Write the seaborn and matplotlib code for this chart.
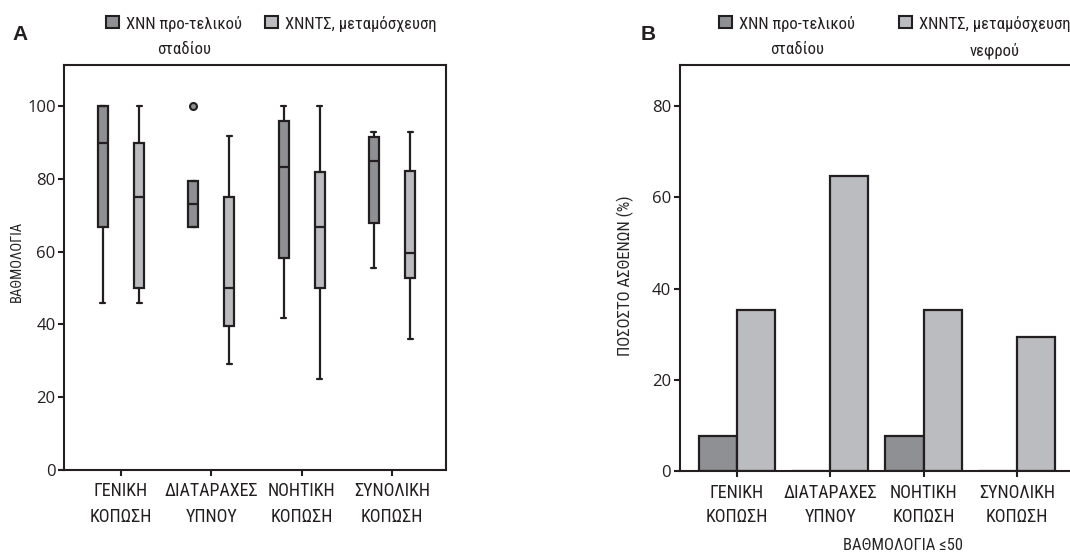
import matplotlib
matplotlib.use("Agg")
import matplotlib.pyplot as plt
from matplotlib import font_manager
from matplotlib.font_manager import FontProperties
import seaborn as sns
import pandas as pd

# ---------------- data ----------------
categories = ["ΓΕΝΙΚΗ\nΚΟΠΩΣΗ", "ΔΙΑΤΑΡΑΧΕΣ\nΥΠΝΟΥ", "ΝΟΗΤΙΚΗ\nΚΟΠΩΣΗ", "ΣΥΝΟΛΙΚΗ\nΚΟΠΩΣΗ"]
groups_a = ["ΧΝΝ προ-τελικού\nσταδίου", "ΧΝΝΤΣ, μεταμόσχευση"]
groups_b = ["ΧΝΝ προ-τελικού\nσταδίου", "ΧΝΝΤΣ, μεταμόσχευση\nνεφρού"]

# panel A: score samples per category (min, Q1, median, Q3, max / outlier)
esrd_scores = [
    [46.0, 66.7, 90.0, 100.0, 100.0],
    [66.7, 66.7, 73.0, 79.5, 100.0],
    [41.7, 58.3, 83.3, 95.8, 100.0],
    [55.5, 68.0, 85.0, 91.5, 93.0],
]
rrt_scores = [
    [46.0, 50.0, 75.0, 90.0, 100.0],
    [29.2, 39.6, 50.0, 75.0, 91.7],
    [25.0, 50.0, 66.7, 82.0, 100.0],
    [36.0, 52.7, 59.5, 82.3, 93.0],
]

# panel B: percent of patients with score <= 50
esrd_pct = [7.7, 0.0, 7.7, 0.0]
rrt_pct = [35.3, 64.7, 35.3, 29.4]

y_ticks_a = [0, 20, 40, 60, 80, 100]
y_ticks_b = [0, 20, 40, 60, 80]

# ---------------- style ----------------
DARK = "#8f9094"
LIGHT = "#bbbcc0"
EDGE = "#231f20"

sns.set_theme(style="ticks")

# find a condensed / narrow face with Greek glyphs
def find_narrow():
    prefs = ["Liberation Sans Narrow", "Roboto Condensed", "Noto Sans", "Open Sans", "DejaVu Sans"]
    entries = font_manager.fontManager.ttflist
    for p in prefs:
        for f in entries:
            fn = f.fname.lower()
            is_narrow = ("narrow" in fn or "condensed" in fn or
                         f.stretch in ("condensed", "semi-condensed"))
            bad = any(k in fn for k in ("bold", "italic", "oblique", "light", "thin",
                                         "medium", "black", "semibold", "extracondensed",
                                         "ultracondensed", "semicondensed"))
            if f.name.startswith(p) and is_narrow and not bad:
                return f.fname
    return None

narrow_path = find_narrow()
avail = {f.name for f in font_manager.fontManager.ttflist}
NUM = "Open Sans" if "Open Sans" in avail else "DejaVu Sans"

def nfp(size):
    if narrow_path:
        return FontProperties(fname=narrow_path, size=size)
    return FontProperties(family="DejaVu Sans", stretch="condensed", size=size)

plt.rcParams["axes.edgecolor"] = EDGE
plt.rcParams["axes.linewidth"] = 1.5
plt.rcParams["xtick.color"] = EDGE
plt.rcParams["ytick.color"] = EDGE
plt.rcParams["text.color"] = EDGE

rows = []
for cat, vals in zip(categories, esrd_scores):
    for v in vals:
        rows.append({"cat": cat, "grp": groups_a[0], "val": v})
for cat, vals in zip(categories, rrt_scores):
    for v in vals:
        rows.append({"cat": cat, "grp": groups_a[1], "val": v})
df_a = pd.DataFrame(rows)

df_b = pd.DataFrame({
    "cat": categories * 2,
    "grp": [groups_b[0]] * 4 + [groups_b[1]] * 4,
    "pct": esrd_pct + rrt_pct,
})

W, H = 1070, 553
fig = plt.figure(figsize=(W / 100, H / 100), dpi=100)

def fx(px):
    return px / W

def fy(py):
    return 1 - py / H

axA = fig.add_axes([fx(64), fy(470), fx(446 - 64), (470 - 65) / H])
axB = fig.add_axes([fx(679.5), fy(471), fx(1127 - 679.5), (471 - 65) / H])

# ---------------- panel A ----------------
sns.boxplot(
    data=df_a, x="cat", y="val", hue="grp", order=categories, hue_order=groups_a,
    palette=[DARK, LIGHT], width=0.8, gap=0.72, linecolor=EDGE, linewidth=1.6,
    whis=1.5, saturation=1,
    flierprops=dict(marker="o", markersize=5, markerfacecolor=DARK,
                    markeredgecolor=EDGE, markeredgewidth=1.5),
    ax=axA,
)
axA.set_xlim(-0.631, 3.598)
axA.set_ylim(0, 111.3)
axA.set_yticks(y_ticks_a)
axA.set_xlabel("")
axA.set_ylabel("ΒΑΘΜΟΛΟΓΙΑ", fontproperties=nfp(10.5), va="center")
axA.yaxis.set_label_coords((17 - 64) / 382, (470 - 261) / 405)
for s in axA.spines.values():
    s.set_visible(True)

# ---------------- panel B ----------------
sns.barplot(
    data=df_b, x="cat", y="pct", hue="grp", order=categories, hue_order=groups_b,
    palette=[DARK, LIGHT], width=0.82, gap=0, edgecolor=EDGE, linewidth=1.6,
    saturation=1, errorbar=None, ax=axB,
)
axB.set_xlim(-0.615, 4.18)
axB.set_ylim(0, 89)
axB.set_yticks(y_ticks_b)
axB.set_xlabel("ΒΑΘΜΟΛΟΓΙΑ ≤50", fontproperties=nfp(12), va="top")
axB.xaxis.set_label_coords((903 - 679.5) / 447.5, (471 - 538) / 406)
axB.set_ylabel("ΠΟΣΟΣΤΟ ΑΣΘΕΝΩΝ (%)", fontproperties=nfp(12), va="center")
axB.yaxis.set_label_coords((625 - 679.5) / 447.5, (471 - 276) / 406)
axB.spines["top"].set_visible(True)
axB.spines["right"].set_visible(True)

for ax in (axA, axB):
    ax.tick_params(axis="both", direction="out", length=4, width=1.5)
    ax.tick_params(axis="x", pad=5)
    ax.tick_params(axis="y", pad=2)
    for t in ax.get_yticklabels():
        t.set_fontfamily(NUM)
        t.set_fontsize(12)
    for t in ax.get_xticklabels():
        t.set_fontproperties(nfp(13))
        t.set_linespacing(1.5)

# ---------------- legends ----------------
def make_legend(ax, x_px, labels_list, colspace):
    handles, labels = ax.get_legend_handles_labels()
    if ax.get_legend() is not None:
        ax.get_legend().remove()
    leg = ax.legend(
        handles, labels_list, loc="upper left",
        bbox_to_anchor=(fx(x_px), fy(16)), bbox_transform=fig.transFigure,
        ncol=2, frameon=False, handlelength=0.75, handleheight=0.75,
        handletextpad=0.45, columnspacing=colspace, borderpad=0, borderaxespad=0,
        prop=nfp(12),
    )
    for t in leg.get_texts():
        t.set_multialignment("center")
        t.set_linespacing(1.8)
    for h in leg.legend_handles:
        h.set_edgecolor(EDGE)
        h.set_linewidth(1.5)
    try:
        box = leg._legend_handle_box
        box.align = "top"
        for col in box.get_children():
            col.align = "left"
            for row in col.get_children():
                row.align = "top"
    except Exception:
        pass
    return leg

make_legend(axA, 106, groups_a, 1.4)
make_legend(axB, 719, groups_b, 2.65)

fig.text(fx(12), fy(35), "A", fontsize=15, fontweight="bold", va="center",
         family=["Liberation Sans", "DejaVu Sans"])
fig.text(fx(641), fy(35), "B", fontsize=15, fontweight="bold", va="center",
         family=["Liberation Sans", "DejaVu Sans"])

fig.savefig("out.png", dpi=100)
